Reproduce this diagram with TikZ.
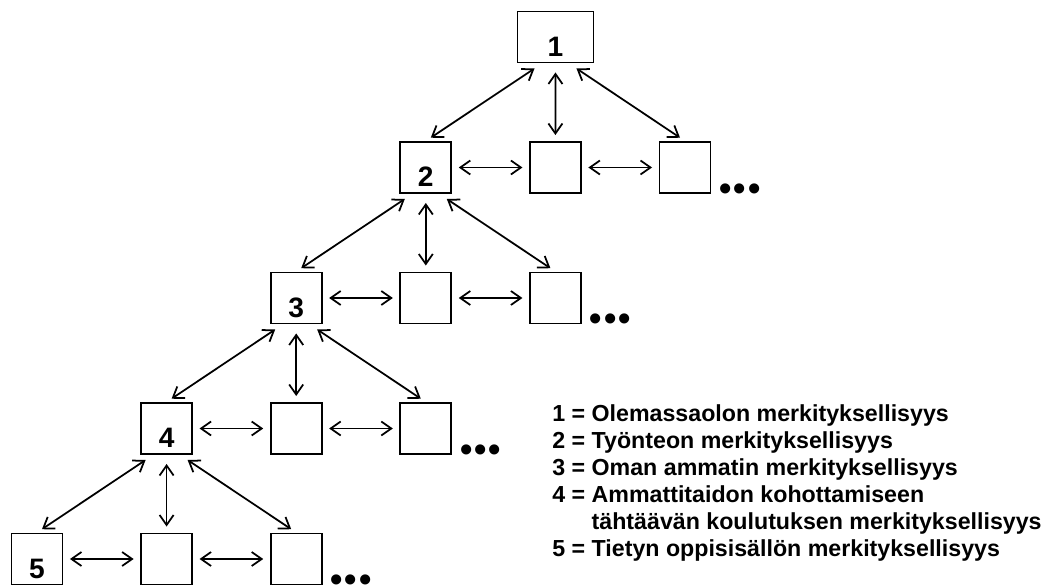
\documentclass[tikz,border=0pt]{standalone}
\usepackage{fontspec}
\setmainfont{Liberation Sans}
\usetikzlibrary{arrows.meta,math}

\begin{document}
\begin{tikzpicture}[
        box/.style={draw, line width=1.1pt, minimum width=1.02cm, minimum height=1.02cm, inner sep=0pt,
            font=\bfseries\fontsize{16}{16}\selectfont, text height=0.78cm, text depth=0cm},
        link/.style={line width=1pt, {Straight Barb[length=2mm,width=2.8mm]}-{Straight Barb[length=2mm,width=2.8mm]}},
        more/.style={anchor=west, inner sep=0pt, text depth=0pt, font=\bfseries\fontsize{20}{20}\selectfont}
    ]
    \useasboundingbox (0,0) rectangle (21,11.74);

    \node[box, minimum width=1.52cm] (b11) at (11.11,11.0) {1};

    \foreach \r in {2,3,4,5}{
        \tikzmath{
            integer \p;
            \p = \r - 1;
            \x = 0.74 + 2.592*(5-\r);
            \y = 11.0 - 2.61*(\r-1);
        }
        \node[box] (b\r1) at (\x,\y) {\r};
        \node[box] (b\r2) at (\x+2.592,\y) {};
        \node[box] (b\r3) at (\x+5.184,\y) {};
        \node[more] (d\r) at ([xshift=0.15cm,yshift=0.04cm]b\r3.south east) {\textbullet\kern1.2pt\textbullet\kern1.2pt\textbullet};

        \draw[link, shorten <=0.13cm, shorten >=0.13cm] (b\r1) -- (b\r2);
        \draw[link, shorten <=0.13cm, shorten >=0.13cm] (b\r2) -- (b\r3);

        \draw[link, shorten <=0.18cm, shorten >=0.12cm] ([xshift=-0.27cm]b\p1.south) -- (b\r1.north);
        \draw[link, shorten <=0.18cm, shorten >=0.12cm] (b\p1.south) -- (b\r2.north);
        \draw[link, shorten <=0.18cm, shorten >=0.12cm] ([xshift=0.27cm]b\p1.south) -- (b\r3.north);
    }

    \node[anchor=base west, inner sep=0pt, font=\bfseries\fontsize{13.2}{15.3}\selectfont] (legend) at (11.04,3.3) {%
        \begin{tabular}[t]{@{}l@{\space}l@{}}
            1 = & Olemassaolon merkityksellisyys\\
            2 = & Työnteon merkityksellisyys\\
            3 = & Oman ammatin merkityksellisyys\\
            4 = & Ammattitaidon kohottamiseen\\
                & tähtäävän koulutuksen merkityksellisyys\\
            5 = & Tietyn oppisisällön merkityksellisyys
        \end{tabular}};
\end{tikzpicture}
\end{document}
